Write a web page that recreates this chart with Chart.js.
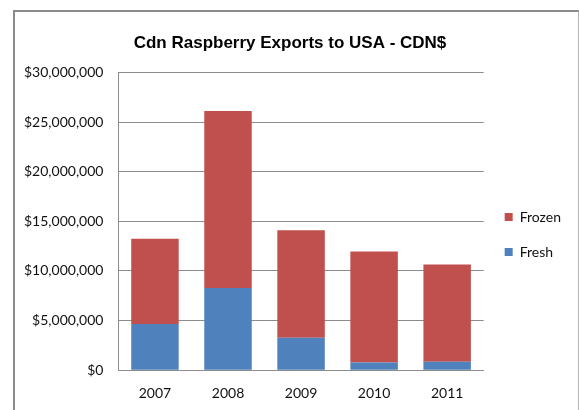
<!DOCTYPE html>
<html>
<head>
<meta charset="utf-8">
<script src="https://cdn.jsdelivr.net/npm/chart.js@4/dist/chart.umd.min.js"></script>
<style>
  html, body { margin: 0; padding: 0; background: #ffffff; overflow: hidden; }
  #wrap { position: relative; width: 579px; height: 410px; }
  #frame { position: absolute; left: 13px; top: 10px; width: 563px; height: 420px;
           border-left: 2px solid #8a8a8a; border-top: 2px solid #8a8a8a; border-right: 1px solid #b4b4b4; z-index: 0; }
  #c { position: absolute; left: 0; top: 0; z-index: 1; }
</style>
</head>
<body>
<div id="wrap">
  <div id="frame"></div>
  <canvas id="c" width="579" height="410"></canvas>
</div>
<script>
const titleText = "Cdn Raspberry Exports to USA - CDN$";
const years = ["2007", "2008", "2009", "2010", "2011"];
const fresh = [4650000, 8290000, 3270000, 770000, 840000];
const frozen = [8600000, 17830000, 10820000, 11200000, 9810000];
const seriesNames = ["Fresh", "Frozen"];
const seriesColors = ["#4F81BD", "#C0504D"];
const yMin = 0, yMax = 30000000, yStep = 5000000;

const gridColor = "#8c8c8c";
const labelFont = { family: "Lato", size: 14 };

new Chart(document.getElementById("c"), {
  type: "bar",
  data: {
    labels: years,
    datasets: [
      { label: seriesNames[0], data: fresh, backgroundColor: seriesColors[0], borderWidth: 0 },
      { label: seriesNames[1], data: frozen, backgroundColor: seriesColors[1], borderWidth: 0 }
    ]
  },
  options: {
    responsive: false,
    animation: false,
    devicePixelRatio: 1,
    layout: { padding: { left: 9, right: 8, top: 12, bottom: -7 } },
    datasets: { bar: { barPercentage: 0.65, categoryPercentage: 1.0 } },
    plugins: {
      title: {
        display: true,
        text: titleText,
        color: "#000000",
        font: { family: "Liberation Sans", size: 17, weight: "bold" },
        padding: { top: 21, bottom: 19 }
      },
      legend: {
        position: "right",
        reverse: true,
        title: { display: true, text: "", font: { size: 10, lineHeight: 1 }, padding: { top: 30, bottom: 0 } },
        labels: {
          boxWidth: 8,
          boxHeight: 8,
          padding: 21,
          color: "#111111",
          font: labelFont
        }
      },
      tooltip: { enabled: false }
    },
    scales: {
      x: {
        stacked: true,
        grid: { display: false, drawTicks: false },
        border: { display: true, color: gridColor, width: 1 },
        ticks: { color: "#111111", font: labelFont, padding: 15 }
      },
      y: {
        stacked: true,
        min: yMin,
        max: yMax,
        grid: { color: gridColor, lineWidth: 1, drawTicks: false },
        border: { display: true, color: gridColor, width: 1 },
        ticks: {
          stepSize: yStep,
          color: "#111111",
          font: labelFont,
          padding: 15,
          callback: v => "$" + Number(v).toLocaleString("en-US")
        }
      }
    }
  }
});
</script>
</body>
</html>
